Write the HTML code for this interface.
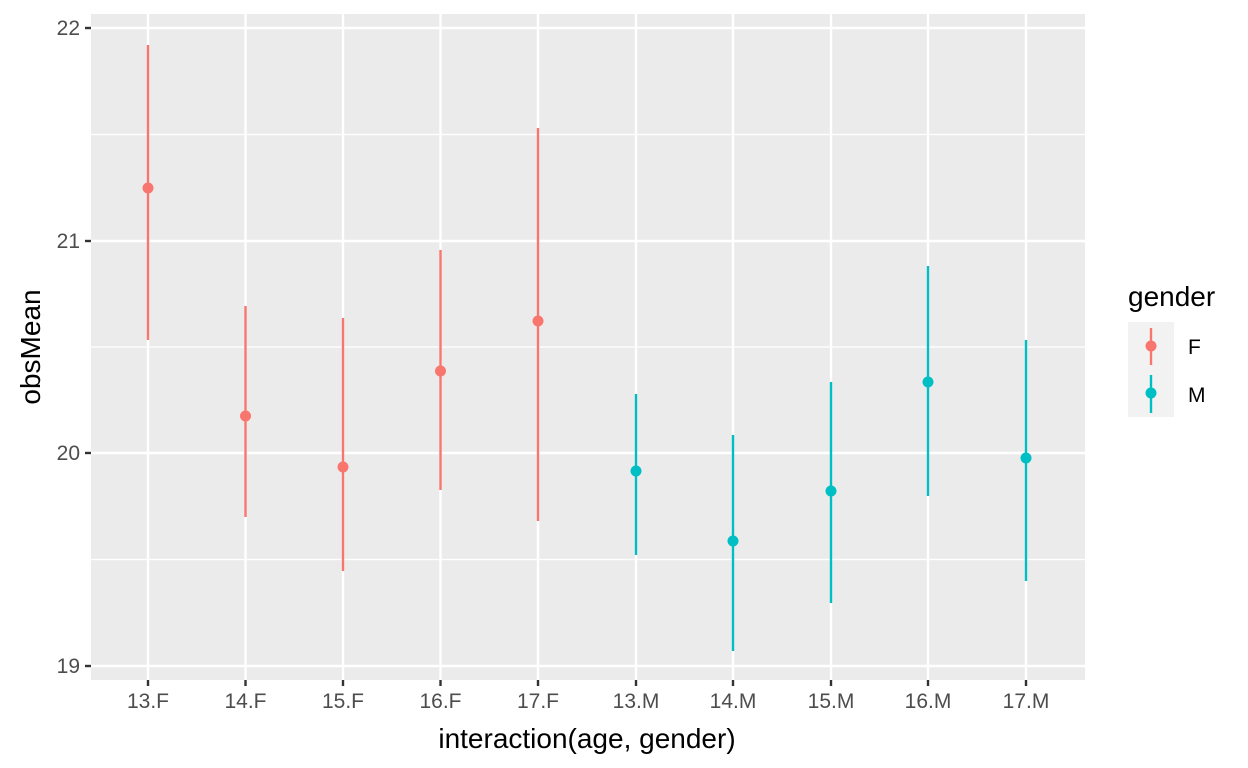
<!DOCTYPE html>
<html><head><meta charset="utf-8"><style>body{margin:0;background:#fff}svg{display:block}</style></head><body>
<svg width="1248" height="768" xmlns="http://www.w3.org/2000/svg" font-family="Liberation Sans, sans-serif">
<rect x="91" y="14" width="994" height="666" fill="#EBEBEB"/>
<g stroke="#fff" stroke-width="1.2">
<line x1="91" x2="1085" y1="134.5" y2="134.5"/><line x1="91" x2="1085" y1="347" y2="347"/><line x1="91" x2="1085" y1="559.5" y2="559.5"/>
</g>
<g stroke="#fff" stroke-width="2.4">
<line x1="91" x2="1085" y1="28" y2="28"/><line x1="91" x2="1085" y1="241" y2="241"/><line x1="91" x2="1085" y1="453" y2="453"/><line x1="91" x2="1085" y1="666" y2="666"/>
<line x1="148" x2="148" y1="14" y2="680"/><line x1="245.5" x2="245.5" y1="14" y2="680"/><line x1="343" x2="343" y1="14" y2="680"/><line x1="440.5" x2="440.5" y1="14" y2="680"/><line x1="538" x2="538" y1="14" y2="680"/><line x1="636" x2="636" y1="14" y2="680"/><line x1="733" x2="733" y1="14" y2="680"/><line x1="831" x2="831" y1="14" y2="680"/><line x1="928" x2="928" y1="14" y2="680"/><line x1="1026" x2="1026" y1="14" y2="680"/>
</g>
<g stroke="#F8766D" stroke-width="2.4" fill="#F8766D">
<line x1="148" x2="148" y1="45" y2="340"/><circle cx="148" cy="188" r="5.5" stroke="none"/>
<line x1="245.5" x2="245.5" y1="306" y2="517"/><circle cx="245.5" cy="416" r="5.5" stroke="none"/>
<line x1="343" x2="343" y1="318" y2="571"/><circle cx="343" cy="467" r="5.5" stroke="none"/>
<line x1="440.5" x2="440.5" y1="250" y2="490"/><circle cx="440.5" cy="371" r="5.5" stroke="none"/>
<line x1="538" x2="538" y1="128" y2="521"/><circle cx="538" cy="321" r="5.5" stroke="none"/>
</g>
<g stroke="#00BFC4" stroke-width="2.4" fill="#00BFC4">
<line x1="636" x2="636" y1="394" y2="555"/><circle cx="636" cy="471" r="5.5" stroke="none"/>
<line x1="733" x2="733" y1="435" y2="651"/><circle cx="733" cy="541" r="5.5" stroke="none"/>
<line x1="831" x2="831" y1="382" y2="603"/><circle cx="831" cy="491" r="5.5" stroke="none"/>
<line x1="928" x2="928" y1="266" y2="496"/><circle cx="928" cy="382" r="5.5" stroke="none"/>
<line x1="1026" x2="1026" y1="340" y2="581"/><circle cx="1026" cy="458" r="5.5" stroke="none"/>
</g>
<g stroke="#333" stroke-width="2.4">
<line x1="85" x2="91" y1="28" y2="28"/><line x1="85" x2="91" y1="241" y2="241"/><line x1="85" x2="91" y1="453" y2="453"/><line x1="85" x2="91" y1="666" y2="666"/>
<line x1="148" x2="148" y1="680" y2="686"/><line x1="245.5" x2="245.5" y1="680" y2="686"/><line x1="343" x2="343" y1="680" y2="686"/><line x1="440.5" x2="440.5" y1="680" y2="686"/><line x1="538" x2="538" y1="680" y2="686"/><line x1="636" x2="636" y1="680" y2="686"/><line x1="733" x2="733" y1="680" y2="686"/><line x1="831" x2="831" y1="680" y2="686"/><line x1="928" x2="928" y1="680" y2="686"/><line x1="1026" x2="1026" y1="680" y2="686"/>
</g>
<g fill="#4D4D4D" font-size="21" text-anchor="end">
<text x="80" y="35">22</text><text x="80" y="248">21</text><text x="80" y="460">20</text><text x="80" y="673">19</text>
</g>
<g fill="#4D4D4D" font-size="21" text-anchor="middle">
<text x="148" y="708">13.F</text><text x="245.5" y="708">14.F</text><text x="343" y="708">15.F</text><text x="440.5" y="708">16.F</text><text x="538" y="708">17.F</text><text x="636" y="708">13.M</text><text x="733" y="708">14.M</text><text x="831" y="708">15.M</text><text x="928" y="708">16.M</text><text x="1026" y="708">17.M</text>
</g>
<text x="587" y="748" font-size="28" text-anchor="middle">interaction(age, gender)</text>
<text transform="translate(40,347) rotate(-90)" font-size="28" text-anchor="middle">obsMean</text>
<text x="1128" y="306" font-size="28">gender</text>
<rect x="1128" y="322" width="46" height="95" fill="#F2F2F2"/>
<line x1="1151" x2="1151" y1="328" y2="365" stroke="#F8766D" stroke-width="2.4"/><circle cx="1151" cy="346" r="5.5" fill="#F8766D"/>
<line x1="1151" x2="1151" y1="375" y2="413" stroke="#00BFC4" stroke-width="2.4"/><circle cx="1151" cy="393" r="5.5" fill="#00BFC4"/>
<text x="1188" y="354" font-size="21">F</text><text x="1188" y="402" font-size="21">M</text>
</svg>
</body></html>
